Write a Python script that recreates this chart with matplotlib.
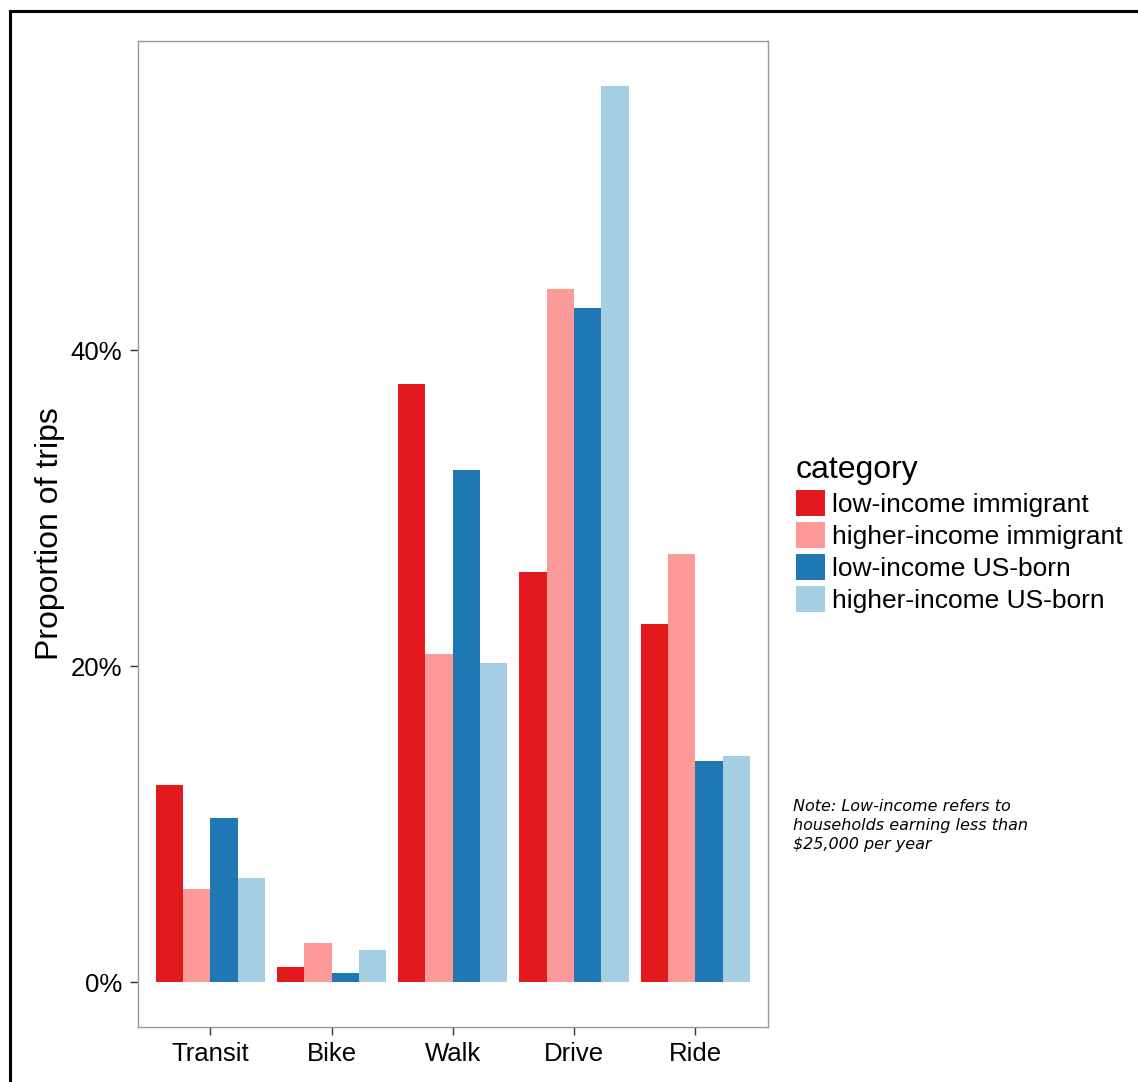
import numpy as np
import matplotlib.pyplot as plt
from matplotlib.patches import Rectangle

# data (proportion of trips)
modes = ['Transit', 'Bike', 'Walk', 'Drive', 'Ride']
groups = ['low-income immigrant', 'higher-income immigrant',
          'low-income US-born', 'higher-income US-born']
low_imm = [0.125, 0.0095, 0.379, 0.260, 0.227]
high_imm = [0.059, 0.025, 0.208, 0.439, 0.271]
low_us = [0.104, 0.0055, 0.324, 0.427, 0.140]
high_us = [0.066, 0.0205, 0.202, 0.5675, 0.143]
colors = ['#E31A1C', '#FB9A99', '#1F78B4', '#A6CEE3']

plt.rcParams['font.family'] = ['Liberation Sans', 'DejaVu Sans']

fig = plt.figure(figsize=(11.38, 10.82), dpi=100)
W, H = 1138, 1082
ax = fig.add_axes([137.5 / W, 1 - 1027 / H, (768 - 137.5) / W, (1027 - 41) / H])

x = np.arange(len(modes))
bw = 0.9 / 4
series = [low_imm, high_imm, low_us, high_us]
for i, (vals, lab, c) in enumerate(zip(series, groups, colors)):
    ax.bar(x - 0.45 + bw * (i + 0.5), vals, width=bw, color=c, label=lab,
           linewidth=0)

ymax = max(max(s) for s in series)
ax.set_xlim(-0.6, len(modes) - 0.4)
ax.set_ylim(-0.05 * ymax, 1.05 * ymax)
ax.set_xticks(x)
ax.set_xticklabels(modes)
ax.set_yticks([0, 0.2, 0.4])
ax.set_yticklabels(['0%', '20%', '40%'])
ax.tick_params(labelsize=18.5, length=6, width=1, color='#333333', pad=5)
for s in ax.spines.values():
    s.set_color('#999999')
    s.set_linewidth(1)
ax.set_ylabel('Proportion of trips', fontsize=23, labelpad=4)

leg = fig.legend(loc='center left', bbox_to_anchor=(796 / W, 1 - 534 / H),
                 title='category', fontsize=19, title_fontsize=23,
                 frameon=False, borderpad=0, borderaxespad=0,
                 handlelength=1.1, handleheight=1.12, handletextpad=0.27,
                 labelspacing=0.2, alignment='left')

fig.text(793 / W, 1 - 799 / H,
         'Note: Low-income refers to\nhouseholds earning less than\n$25,000 per year',
         fontsize=11.5, style='italic', family='DejaVu Sans', va='top',
         linespacing=1.34)

# outer frame (only left and top edges visible in the crop)
fig.add_artist(Rectangle((9.5 / W, -0.2), 1.5, 1.2 - 11 / H,
                         transform=fig.transFigure, fill=False,
                         edgecolor='black', linewidth=2.2))

fig.savefig('out.png', dpi=100, facecolor='white')
